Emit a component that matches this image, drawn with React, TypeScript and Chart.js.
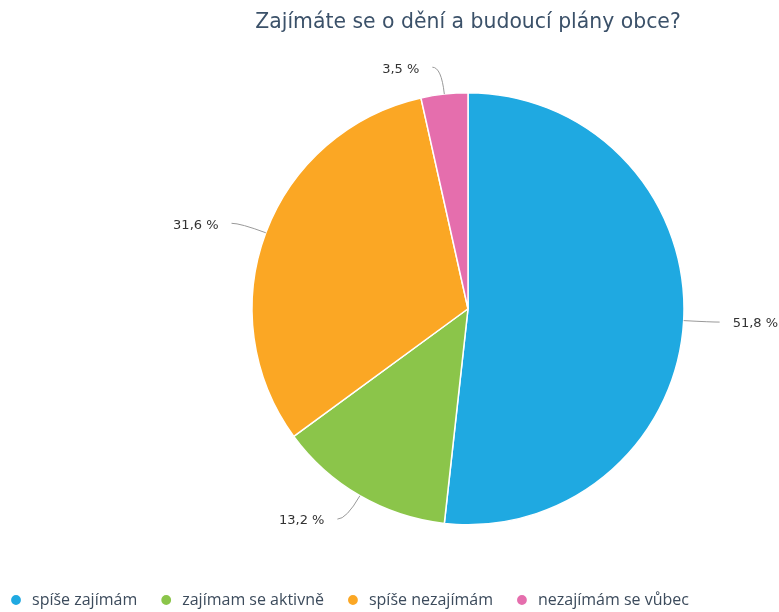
import { useEffect, useRef } from 'react';
import { Chart, registerables } from 'chart.js';

Chart.register(...registerables);

const titleText = 'Zajímáte se o dění a budoucí plány obce?';
const categories = ['spíše zajímám', 'zajímam se aktivně', 'spíše nezajímám', 'nezajímám se vůbec'];
const values = [51.8, 13.2, 31.6, 3.5];
const colors = ['#1fa9e1', '#8bc54a', '#fba724', '#e56ead'];

const fmt = (v: number) => v.toFixed(1).replace('.', ',') + ' %';

const outLabels = {
  id: 'outLabels',
  afterDatasetsDraw(chart: any) {
    const ctx = chart.ctx as CanvasRenderingContext2D;
    const meta = chart.getDatasetMeta(0);
    const data = chart.data.datasets[0].data as number[];
    ctx.save();
    meta.data.forEach((arc: any, i: number) => {
      const p = arc.getProps(['x', 'y', 'startAngle', 'endAngle', 'outerRadius'], true);
      const mid = (p.startAngle + p.endAngle) / 2;
      const c = Math.cos(mid);
      const s = Math.sin(mid);
      const r0 = p.outerRadius;
      const r1 = p.outerRadius + 27;
      const x0 = p.x + c * r0;
      const y0 = p.y + s * r0;
      const x1 = p.x + c * r1;
      const y1 = p.y + s * r1;
      const dir = c >= 0 ? 1 : -1;
      const x2 = x1 + dir * 9;
      ctx.beginPath();
      ctx.moveTo(x0, y0);
      ctx.quadraticCurveTo(x1, y1, x2, y1);
      ctx.strokeStyle = '#999999';
      ctx.lineWidth = 1;
      ctx.stroke();
      ctx.fillStyle = '#333333';
      ctx.font = '13px "DejaVu Sans"';
      ctx.textAlign = dir > 0 ? 'left' : 'right';
      ctx.textBaseline = 'middle';
      ctx.fillText(fmt(data[i]), x2 + dir * 13, y1 + 2);
    });
    ctx.restore();
  },
};

export default function App() {
  const ref = useRef<HTMLCanvasElement | null>(null);
  useEffect(() => {
    if (!ref.current) return;
    const chart = new Chart(ref.current, {
      type: 'pie',
      data: {
        labels: categories,
        datasets: [
          {
            data: values,
            backgroundColor: colors,
            borderColor: '#ffffff',
            borderWidth: 1.5,
            radius: 216,
          } as any,
        ],
      },
      options: {
        responsive: false,
        animation: false,
        layout: { padding: { left: -13, right: 0, top: 0, bottom: -6 } },
        plugins: {
          title: {
            display: true,
            fullSize: false,
            text: titleText,
            color: '#3b5169',
            font: { family: '"DejaVu Sans"', size: 20.4, weight: 'normal' },
            padding: { top: 10, bottom: 12 },
          },
          legend: {
            position: 'bottom',
            align: 'start',
            labels: {
              usePointStyle: true,
              pointStyle: 'circle',
              boxWidth: 16,
              boxHeight: 8,
              padding: 21,
              color: '#3c4b5c',
              font: { family: '"Open Sans"', size: 16 },
            },
          },
          tooltip: { enabled: false },
        },
      },
      plugins: [outLabels],
    });
    return () => chart.destroy();
  }, []);
  return (
    <div style={{ position: 'absolute', left: 0, top: 0, width: 779, height: 612, overflow: 'hidden' }}>
      <canvas ref={ref} width={936} height={612} style={{ display: 'block' }} />
    </div>
  );
}
